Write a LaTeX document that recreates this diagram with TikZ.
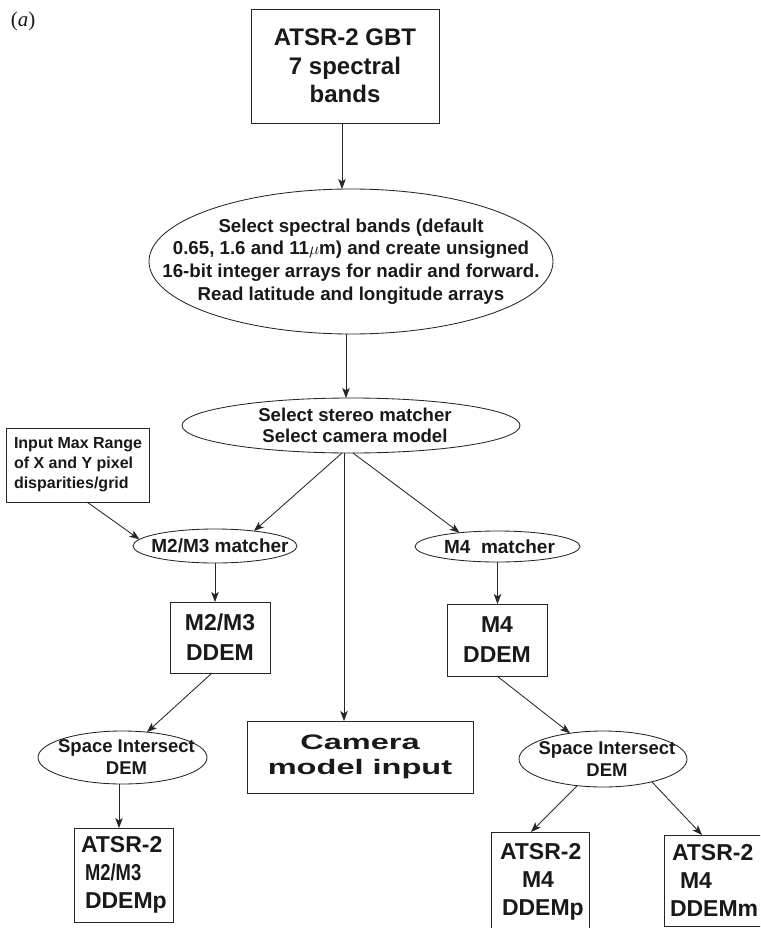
\documentclass[tikz,border=0pt]{standalone}
\usepackage{fontspec}
\setmainfont{Liberation Sans}
\newfontfamily\hvwide[FakeStretch=1.55]{Liberation Sans}
\newfontfamily\hvcond[FakeStretch=0.8]{Liberation Sans}
\newfontfamily\tms{Liberation Serif}
\usetikzlibrary{shapes.geometric,arrows.meta}
\begin{document}
\begin{tikzpicture}[x=1pt,y=-1pt,
  every node/.style={inner sep=0pt, outer sep=0pt, text=black!90},
  box/.style={draw=black!85, line width=0.9pt, rectangle, align=center},
  ell/.style={draw=black!85, line width=0.85pt, ellipse},
  arr/.style={draw=black!85, line width=0.85pt, -{Stealth[length=10pt,width=7.5pt,inset=2.5pt]}},
  tb/.style={font=\bfseries\fontsize{18.6}{21.5}\selectfont, align=center},
  tbl/.style={font=\bfseries\fontsize{18.7}{22.6}\selectfont, align=center},
  tsi/.style={font=\bfseries\fontsize{18.5}{22}\selectfont, align=center},
  tsm/.style={font=\bfseries\fontsize{16}{20}\selectfont, align=left},
  tmat/.style={font=\bfseries\fontsize{19}{22}\selectfont, align=center},
  big/.style={font=\bfseries\fontsize{24}{28.5}\selectfont, align=center},
  bigl/.style={font=\bfseries\fontsize{23}{28}\selectfont, align=left},
  ddem/.style={font=\bfseries\fontsize{23}{30}\selectfont, align=center},
  wide/.style={font=\hvwide\bfseries\fontsize{21}{25}\selectfont, align=center},
]
\useasboundingbox (0,0) rectangle (760,928);
\clip (0,0) rectangle (760,928);

\node[font=\tms\fontsize{21}{25}\selectfont] (lab) at (23,21) {(\textit{a})};

\node[box, big, minimum width=188, minimum height=114] (top) at (345,66)
  {ATSR-2 GBT\\7 spectral\\bands};

\node[ell, minimum width=404, minimum height=145,
  label={[tbl]center:Select spectral bands (default\\0.65, 1.6 and 11$\mu$m) and create unsigned\\16-bit integer arrays for nadir and forward.\\Read latitude and longitude arrays}]
  (ell1) at (351,261.5) {};

\node[ell, minimum width=338, minimum height=55,
  label={[tb, xshift=4pt]center:Select stereo matcher\\Select camera model}]
  (ell2) at (351,425.5) {};

\node[box, minimum width=143, minimum height=74,
  label={[tsm, anchor=west, xshift=8pt]west:Input Max Range\\of X and Y pixel\\disparities/grid}]
  (inp) at (77.5,465) {};

\node[ell, minimum width=164, minimum height=34,
  label={[tmat, xshift=5pt]center:M2/M3 matcher}]
  (m23) at (215,546) {};

\node[ell, minimum width=165, minimum height=31,
  label={[tmat, xshift=2pt]center:M4~ matcher}]
  (m4) at (497.5,546.5) {};

\node[box, ddem, minimum width=100, minimum height=71]
  (d23) at (220,637.5) {M2/M3\\DDEM};

\node[box, ddem, minimum width=100, minimum height=72]
  (d4) at (497,640) {M4\\DDEM};

\node[box, wide, minimum width=226, minimum height=72]
  (cam) at (360,757) {Camera\\model input};

\node[ell, minimum width=169, minimum height=53,
  label={[tsi, xshift=4pt]center:Space Intersect\\DEM}]
  (si1) at (122.5,757.5) {};

\node[ell, minimum width=168, minimum height=56,
  label={[tsi, xshift=4pt]center:Space Intersect\\DEM}]
  (si2) at (603,759) {};

\node[box, minimum width=99, minimum height=94,
  label={[bigl, anchor=west, xshift=7pt]west:ATSR-2\\\hspace*{4pt}{\hvcond M2/M3}\\\hspace*{4pt}DDEMp}]
  (a23) at (123.5,875) {};

\node[box, minimum width=98, minimum height=99,
  label={[bigl, anchor=west, xshift=9pt]west:ATSR-2\\\hspace*{22pt}M4\\\hspace*{2pt}DDEMp}]
  (a4p) at (540,881.5) {};

\node[box, minimum width=104, minimum height=91,
  label={[bigl, anchor=west, xshift=6pt]west:\hspace*{2pt}ATSR-2\\\hspace*{10pt}M4\\DDEMm}]
  (a4m) at (716,880.5) {};

\draw[arr] ([xshift=-3pt]top.south) -- ([xshift=-3pt]top.south |- ell1.north);
\draw[arr] ([xshift=-5pt]ell1.south) -- ([xshift=-5pt]ell1.south |- ell2.north);
\draw[arr] ([xshift=-9pt]ell2.south) -- (m23.21);
\draw[arr] ([xshift=2pt]ell2.south) -- (m4.160);
\draw[arr] ([xshift=-7pt]ell2.south) -- ([xshift=-7pt]ell2.south |- cam.north);
\draw[arr] ([xshift=9.5pt]inp.south) -- (m23.175);
\draw[arr] (m23.south) -- (m23.south |- d23.north);
\draw[arr] (m4.south) -- (m4.south |- d4.north);
\draw[arr] ([xshift=-8pt]d23.south) -- (si1.46);
\draw[arr] (d4.south) -- (si2.142);
\draw[arr] ([xshift=-3.5pt]si1.south) -- ([xshift=-3.5pt]si1.south |- a23.north);
\draw[arr] (si2.-134) -- ([xshift=-9pt]a4p.north);
\draw[arr] (si2.-25) -- ([xshift=-14pt]a4m.north);
\end{tikzpicture}
\end{document}
